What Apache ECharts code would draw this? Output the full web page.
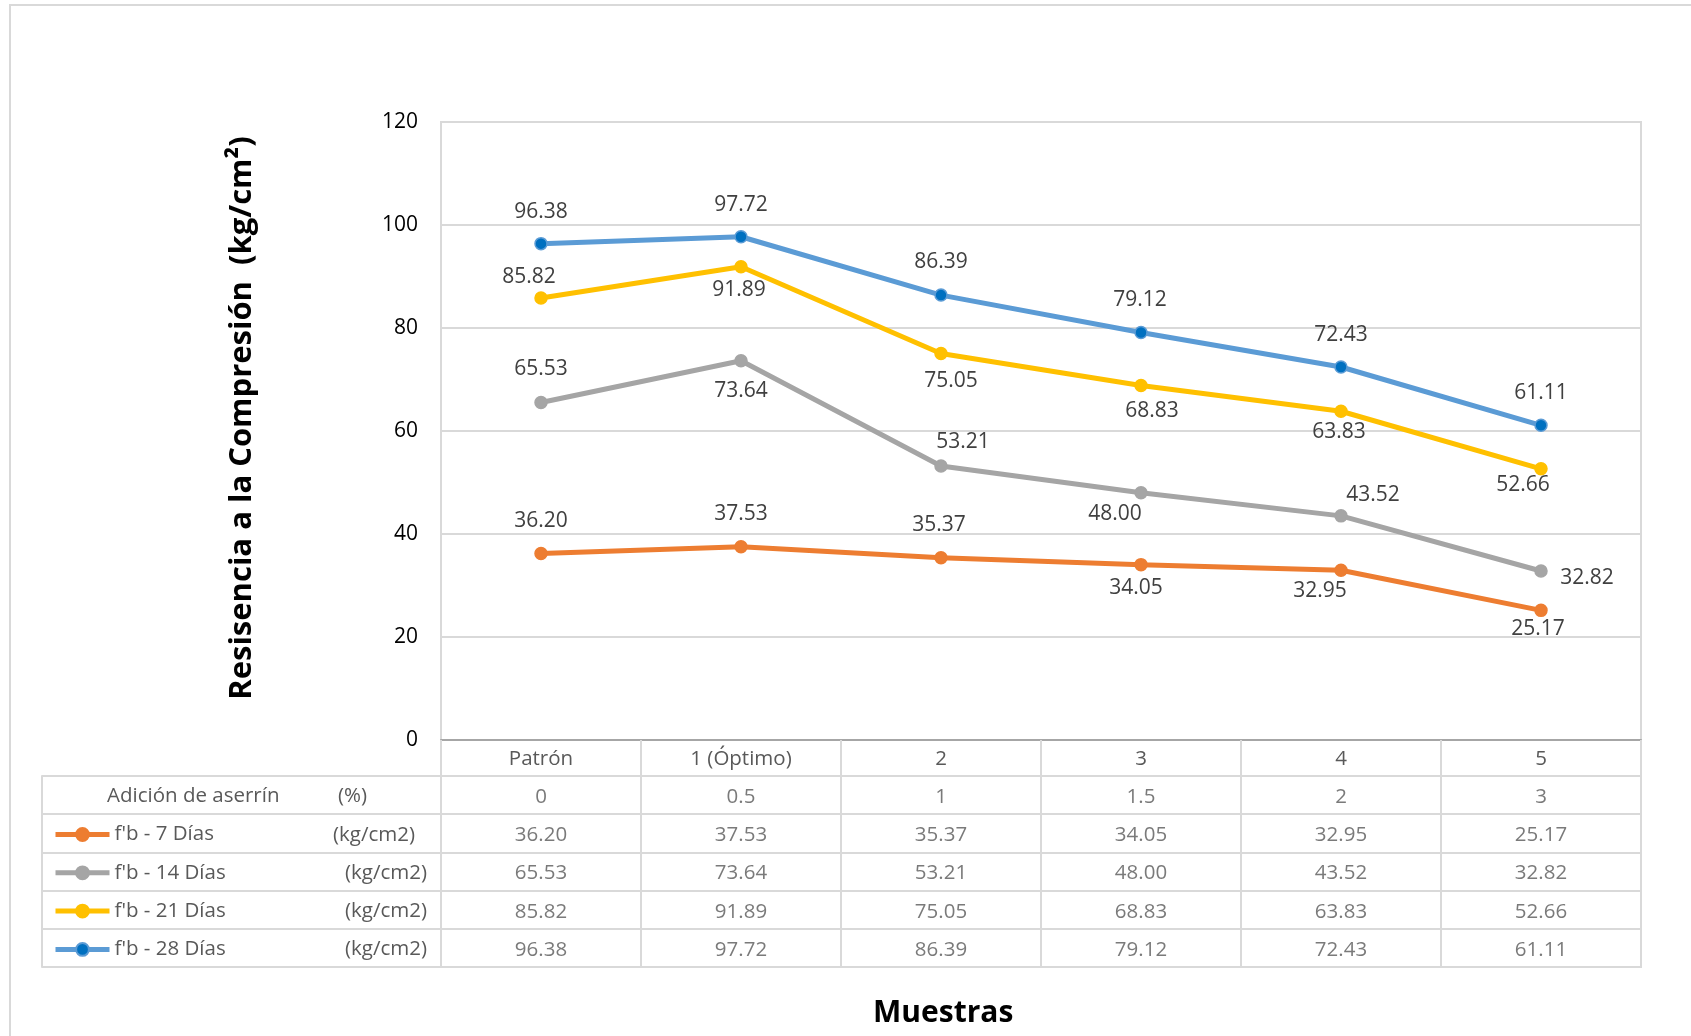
<!DOCTYPE html>
<html>
<head>
<meta charset="utf-8">
<script src="https://cdn.jsdelivr.net/npm/echarts@6/dist/echarts.min.js"></script>
<style>
  html, body { margin: 0; padding: 0; background: #fff; }
  #chart { width: 1691px; height: 1036px; }
</style>
</head>
<body>
<div id="chart"></div>
<script>
// datos
var categorias = ['Patrón', '1 (Óptimo)', '2', '3', '4', '5'];
var adicion = [0, 0.5, 1, 1.5, 2, 3];
var fb7 = [36.20, 37.53, 35.37, 34.05, 32.95, 25.17];
var fb14 = [65.53, 73.64, 53.21, 48.00, 43.52, 32.82];
var fb21 = [85.82, 91.89, 75.05, 68.83, 63.83, 52.66];
var fb28 = [96.38, 97.72, 86.39, 79.12, 72.43, 61.11];
var nombres = ["f'b - 7 Días", "f'b - 14 Días", "f'b - 21 Días", "f'b - 28 Días"];
var filaTabla = 'Adición de aserrín';
var unidades = ['(%)', '(kg/cm2)', '(kg/cm2)', '(kg/cm2)', '(kg/cm2)'];

// desplazamiento de etiquetas (estilo)
var off7 = [[0, -33], [0, -33], [-2, -33], [-5, 23], [-21, 21], [-3, 19]];
var off14 = [[0, -34], [0, 30], [22, -24], [-26, 21], [32, -21], [46, 7]];
var off21 = [[-12, -21], [-2, 23], [10, 28], [11, 25], [-2, 21], [-18, 16]];
var off28 = [[0, -32], [0, -32], [0, -33], [-1, -33], [0, -32], [0, -32]];

var FONT = 'Open Sans';
var GRIS = '#D9D9D9';

var lineaSerie = function (name, valores, offsets, color, fill) {
    return {
        name: name,
        type: 'line',
        xAxisIndex: 0,
        yAxisIndex: 0,
        symbol: 'circle',
        symbolSize: 12,
        lineStyle: { color: color, width: 5 },
        itemStyle: { color: fill, borderColor: color, borderWidth: 1.5 },
        label: {
            show: true,
            position: 'inside',
            fontFamily: FONT,
            fontSize: 21,
            color: '#404040',
            formatter: function (p) { return p.value.toFixed(2); }
        },
        emphasis: { disabled: true },
        data: valores.map(function (v, i) {
            return { value: v, label: { offset: offsets[i] } };
        })
    };
};

// celdas de la tabla
var filas = [adicion, fb7, fb14, fb21, fb28];
var celdas = [];
filas.forEach(function (fila, r) {
    fila.forEach(function (v, c) {
        celdas.push([c, r, r === 0 ? String(v) : v.toFixed(2)]);
    });
});

var chart = echarts.init(document.getElementById('chart'));
var option = {
    backgroundColor: '#fff',
    animation: false,
    textStyle: { fontFamily: FONT },
    title: {
        text: 'Muestras',
        left: 873,
        top: 998,
        padding: 0,
        textStyle: { fontFamily: FONT, fontSize: 30, fontWeight: 'bold', color: '#000' }
    },
    graphic: [{
        type: 'rect',
        shape: { x: 10, y: 5, width: 1720, height: 1100 },
        style: { fill: 'none', stroke: GRIS, lineWidth: 2 },
        silent: true
    }],
    legend: {
        orient: 'vertical',
        left: 48,
        top: 819,
        itemWidth: 54,
        itemHeight: 16,
        itemGap: 17.3,
        data: nombres,
        selectedMode: false,
        lineStyle: { width: 5 },
        textStyle: { fontFamily: FONT, fontSize: 20.5, color: '#595959', lineHeight: 20 }
    },
    grid: [
        { left: 441, right: 50, top: 122, height: 618, show: true, borderColor: GRIS, borderWidth: 2 },
        { left: 441, right: 50, top: 776, height: 191, show: true, borderColor: GRIS, borderWidth: 2 }
    ],
    xAxis: [{
        gridIndex: 0,
        type: 'category',
        data: categorias,
        axisLine: { lineStyle: { color: '#A6A6A6', width: 2 } },
        axisTick: { show: true, interval: 0, length: 36, lineStyle: { color: GRIS, width: 2 } },
        axisLabel: { interval: 0, margin: 9, fontFamily: FONT, fontSize: 20.5, color: '#595959' },
        splitLine: { show: false }
    }, {
        gridIndex: 1,
        type: 'category',
        data: categorias,
        position: 'top',
        axisLine: { show: false },
        axisTick: { show: false },
        axisLabel: { show: false },
        splitLine: { show: true, interval: 0, lineStyle: { color: GRIS, width: 2 } }
    }],
    yAxis: [{
        gridIndex: 0,
        type: 'value',
        min: 0,
        max: 120,
        interval: 20,
        name: 'Resisencia a la Compresión  (kg/cm²)',
        nameLocation: 'middle',
        nameRotate: 90,
        nameGap: 183,
        nameTextStyle: { fontFamily: FONT, fontSize: 31, fontWeight: 'bold', color: '#000', padding: [0, 0, 0, 26] },
        axisLine: { show: false },
        axisTick: { show: false },
        axisLabel: { margin: 23, fontFamily: FONT, fontSize: 21, color: '#000' },
        splitLine: { lineStyle: { color: GRIS, width: 2 } }
    }, {
        gridIndex: 1,
        type: 'category',
        inverse: true,
        data: [filaTabla].concat(nombres),
        axisLine: { show: false },
        axisTick: { show: true, interval: 0, length: 399, lineStyle: { color: GRIS, width: 2 } },
        axisLabel: {
            interval: 0,
            align: 'left',
            margin: 334,
            fontFamily: FONT,
            fontSize: 20.5,
            color: '#595959',
            formatter: function (v, i) {
                if (i === 0) return '{a|' + v + '}{u|' + unidades[i] + '}';
                return (i === 1 ? '{u1|' : '{u2|') + unidades[i] + '}';
            },
            rich: {
                a: { fontFamily: FONT, fontSize: 20.5, color: '#595959', width: 231, padding: [3, 0, 0, 0] },
                u: { fontFamily: FONT, fontSize: 20.5, color: '#595959', padding: [3, 0, 0, 0] },
                u1: { fontFamily: FONT, fontSize: 20.5, color: '#595959', padding: [3, 0, 0, 226] },
                u2: { fontFamily: FONT, fontSize: 20.5, color: '#595959', padding: [3, 0, 0, 238] }
            }
        },
        splitLine: { show: true, interval: 0, lineStyle: { color: GRIS, width: 2 } }
    }, {
        gridIndex: 1,
        type: 'category',
        inverse: true,
        data: [filaTabla].concat(nombres),
        position: 'left',
        offset: 399,
        axisLine: { show: true, lineStyle: { color: GRIS, width: 2 } },
        axisTick: { show: false },
        axisLabel: { show: false },
        splitLine: { show: false }
    }],
    series: [
        lineaSerie(nombres[0], fb7, off7, '#ED7D31', '#ED7D31'),
        lineaSerie(nombres[1], fb14, off14, '#A5A5A5', '#A5A5A5'),
        lineaSerie(nombres[2], fb21, off21, '#FFC000', '#FFC000'),
        lineaSerie(nombres[3], fb28, off28, '#5B9BD5', '#0070C0'),
        {
            type: 'scatter',
            xAxisIndex: 1,
            yAxisIndex: 1,
            symbolSize: 1,
            silent: true,
            itemStyle: { color: 'rgba(0,0,0,0)' },
            label: {
                show: true,
                position: 'inside',
                offset: [0, 2],
                fontFamily: FONT,
                fontSize: 20.5,
                color: '#595959',
                formatter: function (p) { return p.value[2]; }
            },
            data: celdas
        }
    ]
};
chart.setOption(option);
</script>
</body>
</html>
